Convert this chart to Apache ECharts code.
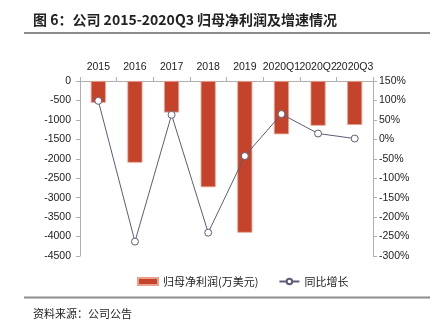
<!DOCTYPE html>
<html><head><meta charset="utf-8">
<script src="https://cdn.jsdelivr.net/npm/echarts@6/dist/echarts.min.js"></script>
<style>html,body{margin:0;padding:0;background:#fff}#c{width:438px;height:328px}</style>
</head><body><div id="c"></div>
<script>
var categories = ['2015','2016','2017','2018','2019','2020Q1','2020Q2','2020Q3'];
var netProfit = [-560,-2100,-810,-2730,-3900,-1370,-1150,-1130];
var growth = [99,-263,63,-240,-43,65,15,2];
var titleText = '图 6：公司 2015-2020Q3 归母净利润及增速情况';
var sourceText = '资料来源：公司公告';

var chart = echarts.init(document.getElementById('c'));
var latin = 'Liberation Sans, Arial, sans-serif';
var cjk = '"Noto Sans CJK SC", sans-serif';
chart.setOption({
  animation:false,
  graphic:[
    {type:'text',left:33,top:13,style:{text:titleText,font:'bold 14px "Noto Sans CJK SC", sans-serif',fill:'#222'}},
    {type:'line',shape:{x1:24,y1:33,x2:430,y2:33},style:{stroke:'#8c8c8c',lineWidth:2}},
    {type:'line',shape:{x1:24,y1:297.5,x2:430,y2:297.5},style:{stroke:'#8c8c8c',lineWidth:2}},
    {type:'text',left:33,top:308,style:{text:sourceText,font:'11px "Noto Sans CJK SC", sans-serif',fill:'#222'}}
  ],
  legend:{
    top:271,left:132,itemWidth:20,itemHeight:7,itemGap:20,
    textStyle:{fontFamily:cjk,fontSize:11,color:'#222'},
    data:[{name:'归母净利润(万美元)',icon:'rect'},{name:'同比增长'}]
  },
  grid:{left:80,right:65,top:81,bottom:72},
  xAxis:{
    type:'category',data:categories,position:'top',
    axisLine:{lineStyle:{color:'#b0b0b0'}},
    axisTick:{show:true,lineStyle:{color:'#b0b0b0'},length:4},
    axisLabel:{color:'#222',fontFamily:latin,fontSize:10.5,margin:8,interval:0}
  },
  yAxis:[
    {type:'value',min:-4500,max:0,interval:500,
     axisLine:{show:true,lineStyle:{color:'#b0b0b0'}},
     axisTick:{show:true,length:4,lineStyle:{color:'#b0b0b0'}},
     splitLine:{show:false},
     axisLabel:{color:'#222',fontFamily:latin,fontSize:10.5,margin:9,formatter:function(v){return String(v);}}},
    {type:'value',min:-300,max:150,interval:50,position:'right',
     axisLine:{show:true,lineStyle:{color:'#b0b0b0'}},
     axisTick:{show:true,length:4,lineStyle:{color:'#b0b0b0'}},
     splitLine:{show:false},
     axisLabel:{color:'#222',fontFamily:latin,fontSize:10.5,margin:6,formatter:function(v){return v+'%';}}}
  ],
  series:[
    {name:'归母净利润(万美元)',type:'bar',data:netProfit,barWidth:15,
     itemStyle:{color:'#C4432A',borderColor:'#EBA08E',borderWidth:0.8}},
    {name:'同比增长',type:'line',yAxisIndex:1,data:growth,
     symbol:'circle',symbolSize:7,
     lineStyle:{color:'#5c5c78',width:1},
     itemStyle:{color:'#fff',borderColor:'#5c5c78',borderWidth:1}}
  ]
});
</script></body></html>
